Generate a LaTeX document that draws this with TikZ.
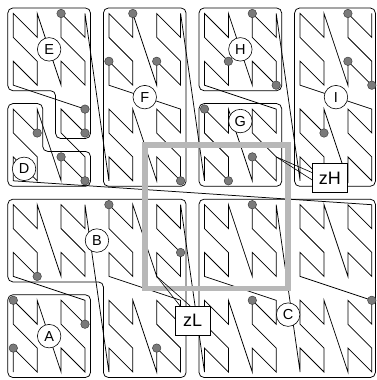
\documentclass[tikz,border=0pt]{standalone}
\usepackage{fontspec}
\setsansfont{Liberation Sans}
\usetikzlibrary{calc}

\begin{document}
\begin{tikzpicture}[
    x=23.9pt, y=23.9pt,
    curve/.style={line width=0.75pt, line join=miter},
    region/.style={line width=0.75pt, rounded corners=5pt},
    query/.style={line width=5.5pt, draw=black!28},
    pt/.style={circle, draw=black!75, fill=black!52, line width=0.5pt, inner sep=0pt, minimum size=8.5pt},
    tag/.style={circle, draw, fill=white, line width=0.6pt, inner sep=0pt, minimum size=23.5pt,
                font=\sffamily\fontsize{14.5}{16}\selectfont},
    zbox/.style={draw, fill=white, line width=0.6pt, inner sep=0pt, minimum width=35pt, minimum height=29pt,
                 font=\sffamily\fontsize{18}{20}\selectfont},
    lead/.style={line width=0.6pt}
  ]
    \useasboundingbox (-0.5565,-0.3347) rectangle (15.176,15.565);

    \foreach \i in {0,...,255}{
      \pgfmathtruncatemacro\cx{8*mod(floor(\i/64),2)+4*mod(floor(\i/32),2)+2*mod(floor(\i/8),2)+mod(floor(\i/2),2)}
      \pgfmathtruncatemacro\cy{8*floor(\i/128)+4*mod(floor(\i/16),2)+2*mod(floor(\i/4),2)+mod(\i,2)}
      \coordinate (z\i) at (\cx,\cy);
    }
    \draw[curve] (z0) \foreach \i in {1,...,255}{ -- (z\i) };

    \draw[region] (-0.23,-0.23) rectangle (3.23,3.23);
    \draw[region] (-0.23,3.77) -- (-0.23,7.23) -- (7.23,7.23) -- (7.23,-0.23) -- (3.77,-0.23) -- (3.77,3.77) -- cycle;
    \draw[region] (7.77,-0.23) rectangle (15.15,7.23);
    \draw[region] (-0.23,11.23) -- (1.23,11.23) -- (1.23,9.23) -- (3.23,9.23) -- (3.23,7.77) -- (-0.23,7.77) -- cycle;
    \draw[region] (-0.23,15.23) -- (3.23,15.23) -- (3.23,9.77) -- (1.77,9.77) -- (1.77,11.77) -- (-0.23,11.77) -- cycle;
    \draw[region] (3.77,7.77) rectangle (7.23,15.23);
    \draw[region] (7.77,7.77) rectangle (11.23,11.23);
    \draw[region] (7.77,11.77) rectangle (11.23,15.23);
    \draw[region] (11.77,7.77) rectangle (15.15,15.23);

    \draw[query] (5.5,3.5) rectangle (11.5,9.5);

    \foreach \c/\r [count=\k] in {2/15,4/13,5/15,6/13,3/11,3/10,1/10,2/9,3/8,7/8,
                                  10/15,9/13,11/12,8/11,10/9,9/8,14/15,14/13,15/12,13/10,
                                  4/7,7/5,1/4,0/3,3/2,0/1,6/1,10/7,10/3,15/3}
      \node[pt] (dot\k) at (\c,\r) {};

    \node[tag] (A) at (1.5,1.5)   {A};
    \node[tag] (B) at (3.5,5.5)   {B};
    \node[tag] (C) at (11.5,2.4)  {C};
    \node[tag] (D) at (0.45,8.5)  {D};
    \node[tag] (E) at (1.5,13.5)  {E};
    \node[tag] (F) at (5.5,11.5)  {F};
    \node[tag] (G) at (9.5,10.5)  {G};
    \node[tag] (H) at (9.5,13.5)  {H};
    \node[tag] (I) at (13.5,11.5) {I};

    \coordinate (zlpt) at (6,4);
    \coordinate (zhpt) at (11,9);
    \node[zbox] (zh) at (13.25,8.12) {zH};
    \node[zbox] (zl) at (7.5,2.15)   {zL};
    \draw[lead] (zhpt) -- ([yshift=5.3pt]zh.west);
    \draw[lead] (zhpt) -- ([yshift=-2pt]zh.west);
    \draw[lead] (zlpt) -- ([xshift=-12.5pt]zl.north);
    \draw[lead] (zlpt) -- ([xshift=-2.5pt]zl.north);
  \end{tikzpicture}
\end{document}
